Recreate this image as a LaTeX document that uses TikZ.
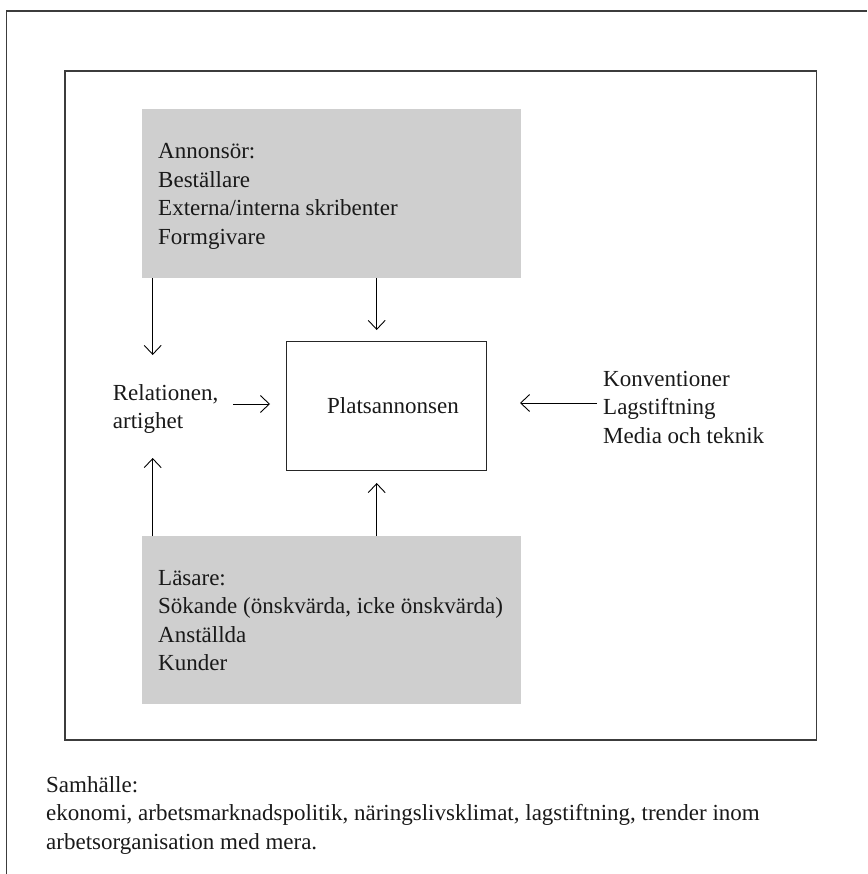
\documentclass[tikz,border=0pt]{standalone}
\usepackage{fontspec}
\setmainfont{Liberation Serif}
\usetikzlibrary{arrows.meta}
\definecolor{boxgray}{RGB}{207,207,207}
\definecolor{framegray}{RGB}{60,60,60}
\begin{document}
\begin{tikzpicture}[x=1pt,y=-1pt,
  frame/.style={draw=framegray, line width=1.3pt},
  graybox/.style={fill=boxgray, draw=none, inner sep=0pt, anchor=north west},
  centerbox/.style={draw=black!85, line width=1.2pt, inner sep=0pt, anchor=north west},
  lbl/.style={font=\fontsize{23}{28.5}\selectfont, align=left, inner sep=0pt, anchor=base west, text=black!90},
  arr/.style={draw=black, line width=0.9pt, -{Straight Barb[length=9pt,width=17pt,line width=0.9pt]}}]
\useasboundingbox (0,0) rectangle (867,874);
% outer frame (open towards right and bottom edges)
\draw[frame] (6.5,874) -- (6.5,11) -- (867,11);
% inner frame
\draw[frame] (65,71) rectangle (816.7,740);
% boxes
\node[graybox, minimum width=379pt, minimum height=169pt] (adv) at (142,109) {};
\node[graybox, minimum width=379pt, minimum height=168pt] (read) at (142,536) {};
\node[centerbox, minimum width=200pt, minimum height=129pt] (ad) at (285.7,340.7) {};
% texts (base anchor = baseline of the last line)
\node[lbl] (advtext) at (158,244.5) {Annonsör:\\Beställare\\Externa/interna skribenter\\Formgivare};
\node[lbl] (readtext) at (158,670.5) {Läsare:\\Sökande (önskvärda, icke önskvärda)\\Anställda\\Kunder};
\node[lbl] (rel) at (112.7,428.5) {Relationen,\\artighet};
\node[lbl] (adtext) at (327,413) {Platsannonsen};
\node[lbl] (ctx) at (603,443) {Konventioner\\Lagstiftning\\Media och teknik};
\node[lbl] (soc) at (46,849) {Samhälle:\\ekonomi, arbetsmarknadspolitik, näringslivsklimat, lagstiftning, trender inom\\arbetsorganisation med mera.};
% connectors
\coordinate (t1) at (152.7,355);
\coordinate (t2) at (376.7,330);
\coordinate (s3) at (233,404);
\coordinate (t3) at (270,404);
\coordinate (t4) at (152.7,458);
\coordinate (t5) at (376.7,483);
\coordinate (s6) at (597,403);
\coordinate (t6) at (520,403);
\draw[arr] (adv.south -| t1) -- (t1);
\draw[arr] (adv.south -| t2) -- (t2);
\draw[arr] (s3) -- (t3);
\draw[arr] (read.north -| t4) -- (t4);
\draw[arr] (read.north -| t5) -- (t5);
\draw[arr] (s6) -- (t6);
\end{tikzpicture}
\end{document}
